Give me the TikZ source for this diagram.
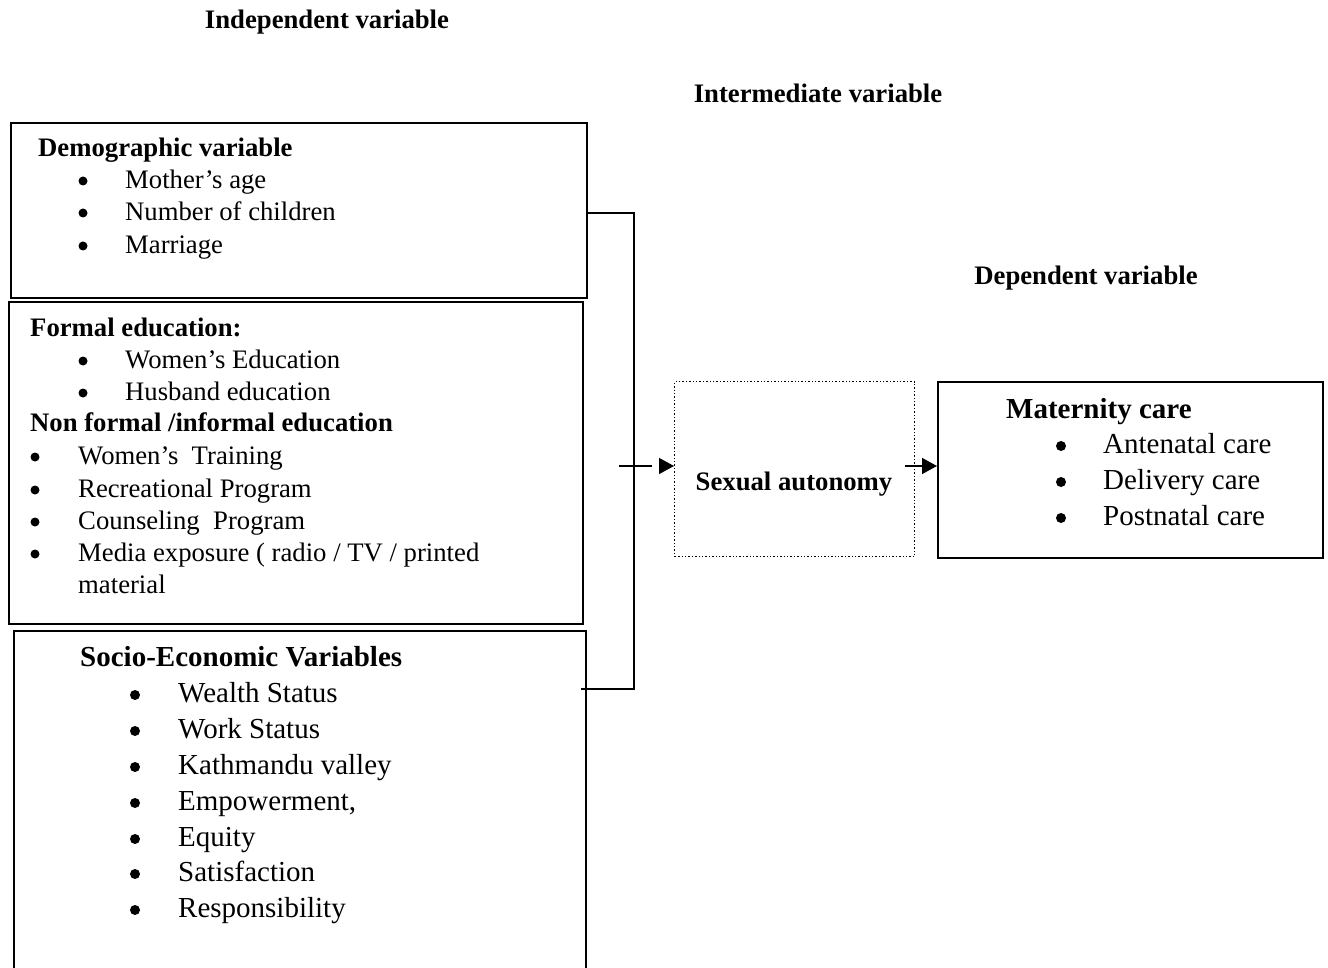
\documentclass[tikz,border=0pt]{standalone}
\usepackage{fontspec}
\setmainfont{Liberation Serif}
\usetikzlibrary{arrows.meta}
\begin{document}
\begin{tikzpicture}[x=1pt,y=-1pt,
  box/.style={draw,line width=1.6pt,inner sep=0pt,anchor=north west},
  dbox/.style={draw,dotted,line width=1.4pt,inner sep=0pt,anchor=north west},
  wire/.style={line width=1.4pt},
  arr/.style={line width=1.4pt,-{Triangle[length=15pt,width=16pt]}},
  bul/.style={circle,fill,inner sep=0pt,minimum size=9pt},
  bigbul/.style={circle,fill,inner sep=0pt,minimum size=10pt},
  txt/.style={anchor=west,inner sep=0pt,text height=20pt,text depth=5pt,font=\fontsize{26.7}{32}\selectfont},
  big/.style={anchor=west,inner sep=0pt,text height=20pt,text depth=5pt,font=\fontsize{29}{35}\selectfont},
  head/.style={inner sep=0pt,text height=20pt,text depth=5pt,font=\fontsize{26.7}{32}\selectfont\bfseries}]
\useasboundingbox (0,0) rectangle (1328,968);
\clip (0,0) rectangle (1328,968);
% headings
\node[head] (hind) at (327,21) {Independent variable};
\node[head] (hint) at (818,95) {Intermediate variable};
\node[head] (hdep) at (1086,277) {Dependent variable};
% boxes
\node[box,minimum width=576pt,minimum height=175pt] (demo) at (10,122) {};
\node[box,minimum width=574pt,minimum height=322pt] (edu) at (8,301) {};
\node[box,minimum width=572pt,minimum height=380pt] (socio) at (13,630) {};
\node[dbox,minimum width=240pt,minimum height=175pt] (sa) at (674,381) {};
\node[box,minimum width=385pt,minimum height=176pt] (mat) at (937,381) {};
% demographic
\node[txt,font=\fontsize{26.7}{32}\selectfont\bfseries] (d0) at (38,149) {Demographic variable};
\node[bul] (d1b) at (83,181) {}; \node[txt] (d1) at (125,181) {Mother’s age};
\node[bul] (d2b) at (83,213) {}; \node[txt] (d2) at (125,213) {Number of children};
\node[bul] (d3b) at (83,246) {}; \node[txt] (d3) at (125,246) {Marriage};
% education
\node[txt,font=\fontsize{26.7}{32}\selectfont\bfseries] (e0) at (30,329) {Formal education:};
\node[bul] (e1b) at (83,361) {}; \node[txt] (e1) at (125,361) {Women’s Education};
\node[bul] (e2b) at (83,393) {}; \node[txt] (e2) at (125,393) {Husband education};
\node[txt,font=\fontsize{26.7}{32}\selectfont\bfseries] (e3) at (30,424) {Non formal /informal education};
\node[bul] (e4b) at (35,457) {}; \node[txt] (e4) at (78,457) {Women’s\ \ Training};
\node[bul] (e5b) at (35,490) {}; \node[txt] (e5) at (78,490) {Recreational Program};
\node[bul] (e6b) at (35,522) {}; \node[txt] (e6) at (78,522) {Counseling\ \ Program};
\node[bul] (e7b) at (35,554) {}; \node[txt] (e7) at (78,554) {Media exposure ( radio / TV / printed};
\node[txt] (e8) at (78,586) {material};
% socio-economic
\node[big,font=\fontsize{29}{35}\selectfont\bfseries] (s0) at (80,659) {Socio-Economic Variables};
\node[bigbul] (s1b) at (135,695) {}; \node[big] (s1) at (178,695) {Wealth Status};
\node[bigbul] (s2b) at (135,731) {}; \node[big] (s2) at (178,731) {Work Status};
\node[bigbul] (s3b) at (135,767) {}; \node[big] (s3) at (178,767) {Kathmandu valley};
\node[bigbul] (s4b) at (135,803) {}; \node[big] (s4) at (178,803) {Empowerment,};
\node[bigbul] (s5b) at (135,839) {}; \node[big] (s5) at (178,839) {Equity};
\node[bigbul] (s6b) at (135,874) {}; \node[big] (s6) at (178,874) {Satisfaction};
\node[bigbul] (s7b) at (135,910) {}; \node[big] (s7) at (178,910) {Responsibility};
% sexual autonomy
\node[head] (sat) at (794,483) {Sexual autonomy};
% maternity
\node[big,font=\fontsize{29}{35}\selectfont\bfseries] (m0) at (1006,411) {Maternity care};
\node[bigbul] (m1b) at (1061,446) {}; \node[big] (m1) at (1103,446) {Antenatal care};
\node[bigbul] (m2b) at (1061,482) {}; \node[big] (m2) at (1103,482) {Delivery care};
\node[bigbul] (m3b) at (1061,518) {}; \node[big] (m3) at (1103,518) {Postnatal care};
% connectors
\coordinate (bt) at (634,213);
\coordinate (bb) at (634,689);
\coordinate (tl) at (619,466);
\coordinate (tr) at (652,466);
\coordinate (as) at (664,466);
\coordinate (ms) at (905,466);
\draw[wire] (demo.north east |- bt) -- (bt) -- (bb) -- (581,689);
\draw[wire] (tl) -- (tr);
\draw[arr] (as) -- (sa.west |- as);
\draw[arr] (ms) -- (mat.west |- ms);
\end{tikzpicture}
\end{document}
